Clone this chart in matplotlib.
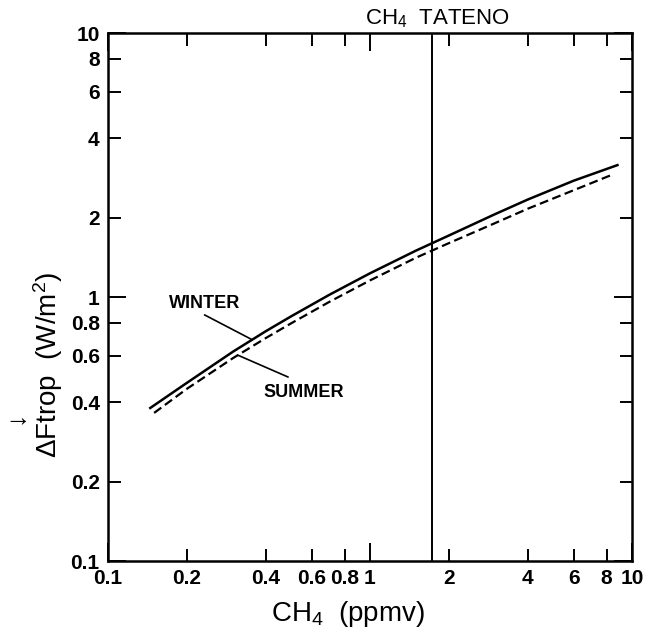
import numpy as np
import matplotlib
matplotlib.use("Agg")
import matplotlib.pyplot as plt

plt.rcParams['font.family'] = ['Liberation Sans', 'DejaVu Sans']
plt.rcParams['mathtext.default'] = 'regular'

# CH4 mixing ratio (ppmv) and forcing (W/m2)
winter_x = [0.145, 0.2, 0.3, 0.4, 0.5, 0.7, 1.0, 1.5, 2.0, 3.0, 4.0, 6.0, 8.8]
winter_y = [0.38, 0.473, 0.621, 0.742, 0.845, 1.02, 1.23, 1.50, 1.71, 2.06, 2.34, 2.76, 3.16]
summer_x = [0.15, 0.2, 0.3, 0.4, 0.5, 0.7, 1.0, 1.5, 2.0, 3.0, 4.0, 6.0, 8.5]
summer_y = [0.364, 0.449, 0.587, 0.699, 0.795, 0.959, 1.156, 1.41, 1.60, 1.905, 2.16, 2.54, 2.92]
present_ch4 = 1.72

major_ticks = [0.1, 1, 10]
major_labels = ['0.1', '1', '10']
minor_ticks = [0.2, 0.4, 0.6, 0.8, 2, 4, 6, 8]
minor_labels = ['0.2', '0.4', '0.6', '0.8', '2', '4', '6', '8']

fig = plt.figure(figsize=(6.51, 6.34), dpi=100)
ax = fig.add_axes([0.1659, 0.1151, 0.8049, 0.8328])

ax.plot(winter_x, winter_y, color='black', lw=1.8)
ax.plot(summer_x, summer_y, color='black', lw=1.6, dashes=(4, 2))
ax.axvline(present_ch4, color='black', lw=1.4)

ax.set_xscale('log')
ax.set_yscale('log')
ax.set_xlim(0.1, 10)
ax.set_ylim(0.1, 10)

for axis in (ax.xaxis, ax.yaxis):
    axis.set_major_locator(matplotlib.ticker.FixedLocator(major_ticks))
    axis.set_major_formatter(matplotlib.ticker.FixedFormatter(major_labels))
    axis.set_minor_locator(matplotlib.ticker.FixedLocator(minor_ticks))
    axis.set_minor_formatter(matplotlib.ticker.FixedFormatter(minor_labels))

ax.tick_params(which='both', direction='in', top=True, right=True,
               labelsize=15, width=1.4, pad=6)
ax.tick_params(which='major', length=13)
ax.tick_params(which='minor', length=9)
for lab in ax.get_xticklabels(which='both') + ax.get_yticklabels(which='both'):
    lab.set_fontweight('bold')
for s in ax.spines.values():
    s.set_linewidth(1.8)

ax.set_xlabel('CH$_4$  (ppmv)', fontsize=20, x=0.458, labelpad=8)
ax.set_ylabel(r'$\Delta$Ftrop  (W/m$^2$)', fontsize=20, y=0.371, labelpad=4)
# downward arrow over the "t" of the y label
fig.text(0.024, 0.342, '\u2193', rotation=90, fontsize=19,
         fontweight='bold', ha='center', va='center')

ax.text(0.628, 1.006, 'CH$_4$  TATENO', transform=ax.transAxes,
        ha='center', va='bottom', fontsize=16)

# labels with leader lines to the curves
lx = np.log10(winter_x)
tip_x = 0.355
tip_y = 10 ** np.interp(np.log10(tip_x), lx, np.log10(winter_y))
ax.text(0.234, 0.949, 'WINTER', ha='center', va='center', fontsize=13,
        fontweight='bold')
ax.plot([0.234, tip_x], [0.855, tip_y], color='black', lw=1.2)

sx = np.log10(summer_x)
tip_x = 0.313
tip_y = 10 ** np.interp(np.log10(tip_x), sx, np.log10(summer_y))
ax.text(0.56, 0.433, 'SUMMER', ha='center', va='center', fontsize=13,
        fontweight='bold')
ax.plot([0.486, tip_x], [0.498, tip_y], color='black', lw=1.2)

fig.savefig('out.png', dpi=100)
